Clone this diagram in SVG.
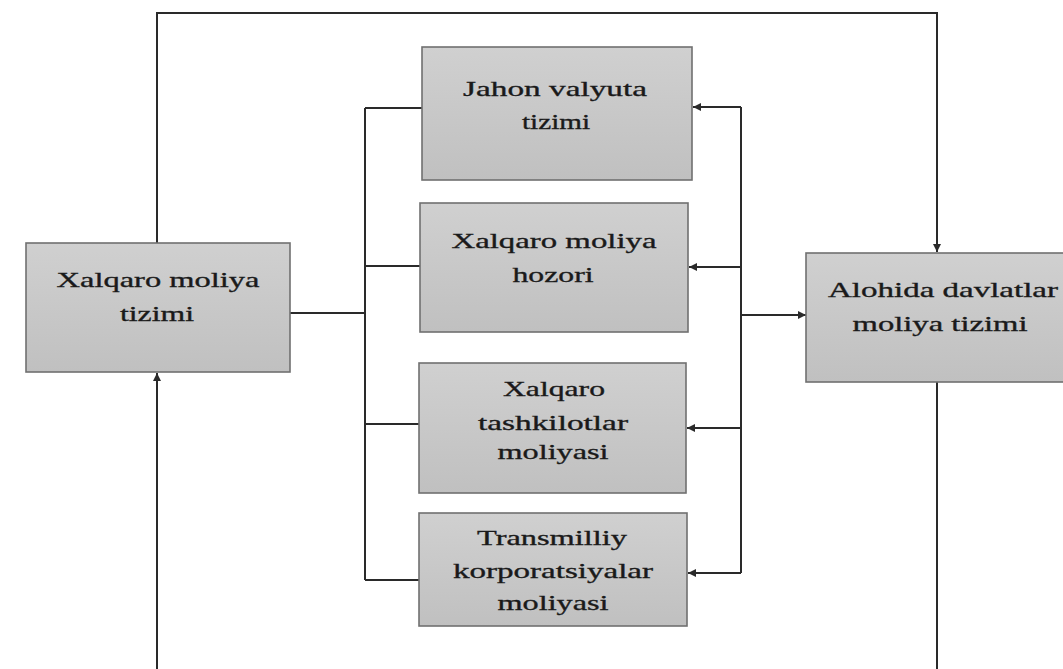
<svg xmlns="http://www.w3.org/2000/svg" width="1063" height="669" viewBox="0 0 1063 669">
<style>
.box{fill:url(#g);stroke:#707070;stroke-width:1.6}
.t{font-family:"Liberation Serif","Times New Roman",serif;font-size:22px;fill:#1a1a1a;stroke:#1a1a1a;stroke-width:0.35;text-anchor:middle}
.ln{fill:none;stroke:#2a2a2a;stroke-width:2}
</style>
<defs>
<linearGradient id="g" x1="0" y1="0" x2="0" y2="1">
<stop offset="0" stop-color="#d0d0d0"/>
<stop offset="1" stop-color="#c0c0c0"/>
</linearGradient>
<marker id="ar" viewBox="0 0 10 10" refX="10" refY="5" markerWidth="10" markerHeight="8" markerUnits="userSpaceOnUse" orient="auto">
<path d="M0,0 L10,5 L0,10 Z" fill="#2a2a2a"/>
</marker>
</defs>
<rect width="1063" height="669" fill="#ffffff"/>
<g id="connectors">
<path class="ln" d="M157,243 V13 H937 V252" marker-end="url(#ar)"/>
<path class="ln" d="M157,669 V373" marker-end="url(#ar)"/>
<path class="ln" d="M937,382 V669"/>
<path class="ln" d="M290,313 H365"/>
<path class="ln" d="M365,108 V580"/>
<path class="ln" d="M365,108 H422"/>
<path class="ln" d="M365,266 H420"/>
<path class="ln" d="M365,424 H419"/>
<path class="ln" d="M365,580 H419"/>
<path class="ln" d="M741,107 V573"/>
<path class="ln" d="M741,107 H693" marker-end="url(#ar)"/>
<path class="ln" d="M741,267 H689" marker-end="url(#ar)"/>
<path class="ln" d="M741,428 H687" marker-end="url(#ar)"/>
<path class="ln" d="M741,573 H688" marker-end="url(#ar)"/>
<path class="ln" d="M741,315 H806" marker-end="url(#ar)"/>
</g>
<g id="xalqaro-moliya-tizimi">
<rect class="box" x="26" y="243" width="264" height="129"/>
<text class="t" x="158" y="287" textLength="203" lengthAdjust="spacingAndGlyphs">Xalqaro moliya</text>
<text class="t" x="157" y="321" textLength="74" lengthAdjust="spacingAndGlyphs">tizimi</text>
</g>
<g id="jahon-valyuta-tizimi">
<rect class="box" x="422" y="47" width="270" height="133"/>
<text class="t" x="555" y="96" textLength="184" lengthAdjust="spacingAndGlyphs">Jahon valyuta</text>
<text class="t" x="556" y="129" textLength="68" lengthAdjust="spacingAndGlyphs">tizimi</text>
</g>
<g id="xalqaro-moliya-bozori">
<rect class="box" x="420" y="203" width="268" height="129"/>
<text class="t" x="554" y="248" textLength="205" lengthAdjust="spacingAndGlyphs">Xalqaro moliya</text>
<text class="t" x="553" y="282" textLength="81" lengthAdjust="spacingAndGlyphs">hozori</text>
</g>
<g id="xalqaro-tashkilotlar-moliyasi">
<rect class="box" x="419" y="363" width="267" height="130"/>
<text class="t" x="554" y="396" textLength="102" lengthAdjust="spacingAndGlyphs">Xalqaro</text>
<text class="t" x="553" y="430" textLength="150" lengthAdjust="spacingAndGlyphs">tashkilotlar</text>
<text class="t" x="553" y="459" textLength="111" lengthAdjust="spacingAndGlyphs">moliyasi</text>
</g>
<g id="transmilliy-korporatsiyalar-moliyasi">
<rect class="box" x="419" y="513" width="268" height="113"/>
<text class="t" x="552" y="545" textLength="150" lengthAdjust="spacingAndGlyphs">Transmilliy</text>
<text class="t" x="553" y="578" textLength="200" lengthAdjust="spacingAndGlyphs">korporatsiyalar</text>
<text class="t" x="553" y="610" textLength="111" lengthAdjust="spacingAndGlyphs">moliyasi</text>
</g>
<g id="alohida-davlatlar-moliya-tizimi">
<rect class="box" x="806" y="253" width="262" height="129"/>
<text class="t" x="943" y="297" textLength="230" lengthAdjust="spacingAndGlyphs">Alohida davlatlar</text>
<text class="t" x="940" y="331" textLength="175" lengthAdjust="spacingAndGlyphs">moliya tizimi</text>
</g>
</svg>
